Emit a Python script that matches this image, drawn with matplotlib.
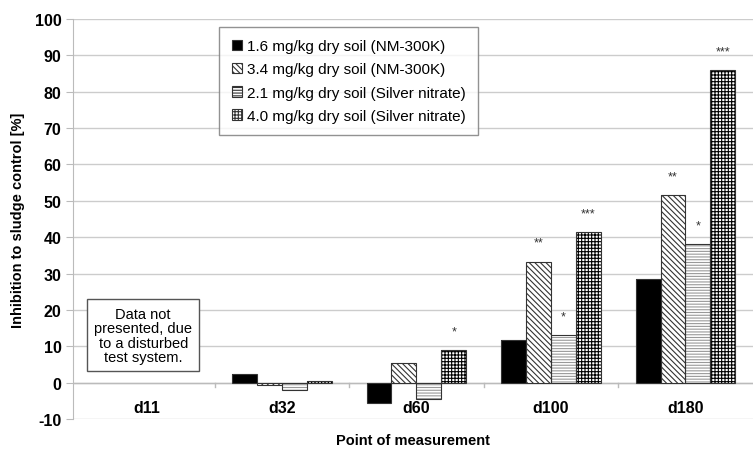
import numpy as np
import matplotlib
matplotlib.use("Agg")
import matplotlib.pyplot as plt

plt.rcParams["font.family"] = ["Liberation Sans", "DejaVu Sans"]
plt.rcParams["hatch.linewidth"] = 0.8
plt.rcParams["axes.unicode_minus"] = False

# data
days = ["d11", "d32", "d60", "d100", "d180"]
labels = ["1.6 mg/kg dry soil (NM-300K)",
          "3.4 mg/kg dry soil (NM-300K)",
          "2.1 mg/kg dry soil (Silver nitrate)",
          "4.0 mg/kg dry soil (Silver nitrate)"]
nm_16 = [np.nan, 2.5, -5.5, 11.8, 28.5]
nm_34 = [np.nan, -0.6, 5.5, 33.3, 51.5]
ag_21 = [np.nan, -1.9, -4.4, 13.0, 38.0]
ag_40 = [np.nan, 0.4, 9.0, 41.3, 86.0]
stars = [["", "", "", "", ""],
         ["", "", "", "**", "**"],
         ["", "", "", "*", "*"],
         ["", "", "*", "***", "***"]]

series = [nm_16, nm_34, ag_21, ag_40]
faces = ["black", "white", "white", "white"]
hatches = [None, "\\\\\\\\\\\\", "------", "+++++"]
hatch_cols = ["black", "#333333", "#999999", "black"]

fig = plt.figure(figsize=(7.55, 4.56), dpi=100)
ax = fig.add_axes([0.097, 0.079, 0.9, 0.877])

x = np.arange(len(days))
w = 0.185
for i, vals in enumerate(series):
    pos = x + (i - 1.5) * w
    ax.bar(pos, vals, w, color=faces[i], hatch=hatches[i],
           edgecolor=hatch_cols[i], linewidth=0, zorder=3)
    ax.bar(pos, vals, w, color="none", edgecolor="#333333",
           linewidth=0.8, zorder=4, label=labels[i])
    for j, s in enumerate(stars[i]):
        if s:
            ax.text(pos[j], vals[j] + 3.5, s, ha="center", va="bottom",
                    fontsize=9, color="#333333")

ax.set_ylim(-10, 100)
ax.set_xlim(-0.55, len(days) - 0.5)
ax.set_yticks(np.arange(-10, 101, 10))
ax.tick_params(axis="y", labelsize=11.5, length=5, color="#bbbbbb")
for t in ax.get_yticklabels():
    t.set_fontweight("bold")
ax.grid(axis="y", color="#cccccc", linewidth=1, zorder=0)
ax.set_xticks([])
for sp in ["top", "right", "bottom"]:
    ax.spines[sp].set_visible(False)
ax.spines["left"].set_color("#bbbbbb")
ax.axhline(0, color="#bbbbbb", linewidth=1, zorder=2)
for b in np.arange(0.5, len(days) - 0.5, 1):
    ax.plot([b, b], [0, -1.2], color="#bbbbbb", linewidth=1, zorder=2)

for i, d in enumerate(days):
    ax.text(i, -6.8, d, ha="center", va="center", fontsize=11.5,
            fontweight="bold")

ax.set_ylabel("Inhibition to sludge control [%]", fontsize=10.5,
              fontweight="bold", labelpad=7)
ax.set_xlabel("Point of measurement", fontsize=10.5, fontweight="bold",
              labelpad=10)

ax.text(-0.03, 13.0, "Data not\npresented, due\nto a disturbed\ntest system.",
        ha="center", va="center", fontsize=10.5, linespacing=1.05,
        bbox=dict(boxstyle="square,pad=0.5", facecolor="white",
                  edgecolor="#555555", linewidth=1), zorder=5)

leg = ax.legend(loc="upper left", bbox_to_anchor=(0.215, 0.98),
                fontsize=11, frameon=True, fancybox=False,
                handlelength=0.7, handleheight=0.7, handletextpad=0.3,
                borderpad=0.8, labelspacing=0.6, borderaxespad=0)
leg.get_frame().set_edgecolor("#777777")
leg.get_frame().set_linewidth(1)
# give the legend handles their fills
for h, i in zip(leg.legend_handles, range(4)):
    h.set_facecolor(faces[i])
    h.set_hatch(hatches[i])
    h.set_edgecolor("#333333")

fig.savefig("out.png", dpi=100)
